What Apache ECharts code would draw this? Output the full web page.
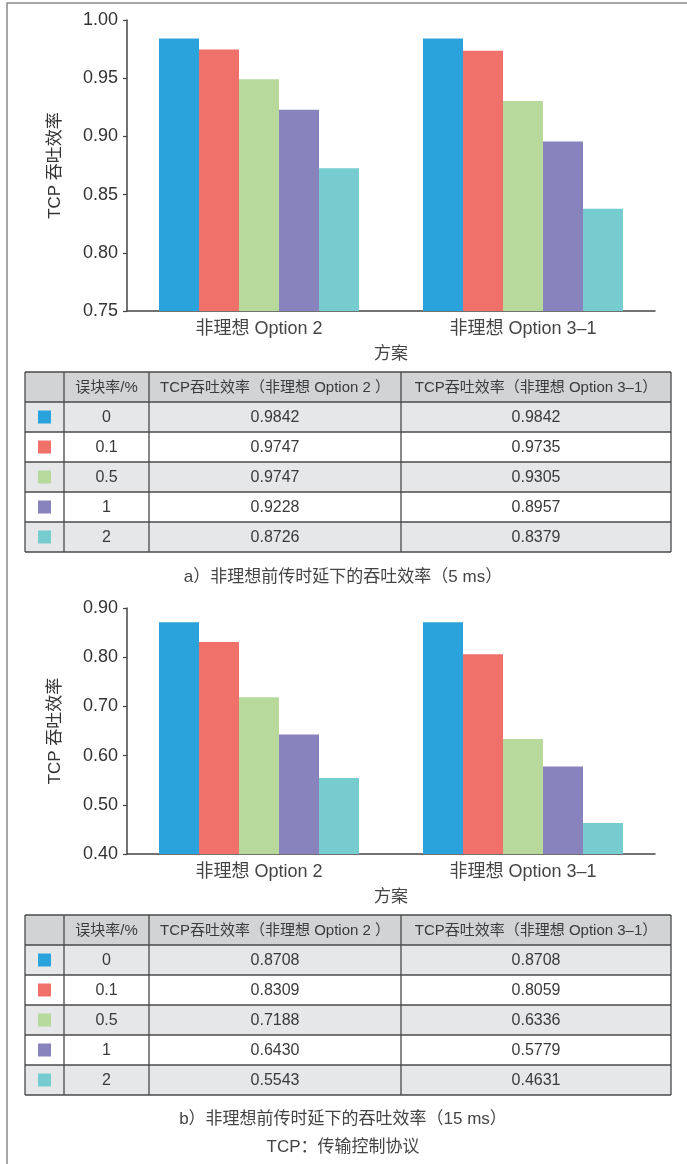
<!DOCTYPE html>
<html>
<head>
<meta charset="utf-8">
<script src="https://cdn.jsdelivr.net/npm/echarts@6/dist/echarts.min.js"></script>
<style>
html,body{margin:0;padding:0;background:#fff;}
#chart{width:687px;height:1164px;}
</style>
</head>
<body>
<div id="chart"></div>
<script>
// ---- data ----
const categories = ['非理想 Option 2', '非理想 Option 3–1'];
const blerLevels = ['0', '0.1', '0.5', '1', '2'];
const colors = ['#2aa2dc', '#f0706a', '#b7da9c', '#8882bd', '#77cccf'];
// chart a (5 ms) bar values
const a5msOpt2 = [0.9842, 0.9747, 0.9490, 0.9228, 0.8726];
const a5msOpt31 = [0.9842, 0.9735, 0.9305, 0.8957, 0.8379];
// chart a table texts (as printed)
const tableA_opt2 = ['0.9842', '0.9747', '0.9747', '0.9228', '0.8726'];
const tableA_opt31 = ['0.9842', '0.9735', '0.9305', '0.8957', '0.8379'];
// chart b (15 ms)
const b15msOpt2 = [0.8708, 0.8309, 0.7188, 0.6430, 0.5543];
const b15msOpt31 = [0.8708, 0.8059, 0.6336, 0.5779, 0.4631];
const tableB_opt2 = ['0.8708', '0.8309', '0.7188', '0.6430', '0.5543'];
const tableB_opt31 = ['0.8708', '0.8059', '0.6336', '0.5779', '0.4631'];
const yTicksA = {min: 0.75, max: 1.00, interval: 0.05};
const yTicksB = {min: 0.40, max: 0.90, interval: 0.10};
const headerTexts = ['', '误块率/%', 'TCP吞吐效率（非理想 Option 2 ）', 'TCP吞吐效率（非理想 Option 3–1）'];
const captionA = 'a）非理想前传时延下的吞吐效率（5 ms）';
const captionB = 'b）非理想前传时延下的吞吐效率（15 ms）';
const noteText = 'TCP：传输控制协议';
const yName = 'TCP 吞吐效率';
const xName = '方案';

// ---- styles ----
const FONT = "'Liberation Sans','Noto Sans CJK SC',sans-serif";
const TFONT = "'Liberation Sans Narrow','Liberation Sans','Noto Sans CJK SC',sans-serif";
const chart = echarts.init(document.getElementById('chart'), null, {renderer: 'canvas'});

function xAxisCfg(i) {
  return {
    type: 'category', gridIndex: i, data: categories,
    axisLine: {lineStyle: {color: '#444', width: 1.5}},
    axisTick: {show: false},
    axisLabel: {fontSize: 18, color: '#444', margin: 9, fontFamily: FONT},
    name: xName, nameLocation: 'middle', nameGap: 35,
    nameTextStyle: {fontSize: 17, color: '#444', fontFamily: FONT}
  };
}
function yAxisCfg(i, t) {
  return {
    type: 'value', gridIndex: i, min: t.min, max: t.max, interval: t.interval,
    axisLine: {show: true, lineStyle: {color: '#444', width: 1.5}},
    axisTick: {show: true, length: 4, lineStyle: {color: '#444', width: 1.2}},
    splitLine: {show: false},
    axisLabel: {fontSize: 18, color: '#333', margin: 9, fontFamily: FONT,
      formatter: v => v.toFixed(2)},
    name: yName, nameLocation: 'middle', nameRotate: 90, nameGap: 63,
    nameTextStyle: {fontSize: 17, color: '#333', fontFamily: FONT}
  };
}

const series = [];
blerLevels.forEach((lv, k) => {
  series.push({type: 'bar', name: lv, xAxisIndex: 0, yAxisIndex: 0,
    data: [a5msOpt2[k], a5msOpt31[k]], barWidth: 40, barGap: '0%',
    itemStyle: {color: colors[k]}});
});
blerLevels.forEach((lv, k) => {
  series.push({type: 'bar', name: lv, xAxisIndex: 1, yAxisIndex: 1,
    data: [b15msOpt2[k], b15msOpt31[k]], barWidth: 40, barGap: '0%',
    itemStyle: {color: colors[k]}});
});

// ---- tables ----
const colX = [25, 64, 149, 401, 671];
const rowH = 30;
function buildTable(top, opt2, opt31) {
  const els = [];
  const nRows = blerLevels.length + 1;
  for (let r = 0; r < nRows; r++) {
    let fill;
    if (r === 0) fill = '#d2d3d5';
    else fill = (r % 2 === 1) ? '#e6e7e8' : '#ffffff';
    els.push({type: 'rect', shape: {x: colX[0], y: top + r * rowH, width: colX[4] - colX[0], height: rowH},
      style: {fill: fill}, silent: true});
  }
  for (let r = 0; r < nRows; r++) {
    const cy = top + r * rowH + rowH / 2;
    let cells;
    if (r === 0) cells = headerTexts;
    else cells = [null, blerLevels[r - 1], opt2[r - 1], opt31[r - 1]];
    for (let c = 0; c < 4; c++) {
      const cx = (colX[c] + colX[c + 1]) / 2;
      if (c === 0 && r > 0) {
        els.push({type: 'rect', shape: {x: cx - 6.5, y: cy - 6.5, width: 13, height: 13},
          style: {fill: colors[r - 1]}, silent: true});
      } else if (cells[c]) {
        els.push({type: 'text', x: cx, y: cy + 1, style: {text: cells[c], fill: '#3a3a3a',
          font: (r === 0 ? '15px ' : '16px ') + TFONT, align: 'center', verticalAlign: 'middle'}, silent: true});
      }
    }
  }
  for (let r = 0; r <= nRows; r++) {
    const y = top + r * rowH;
    els.push({type: 'line', shape: {x1: colX[0], y1: y, x2: colX[4], y2: y},
      style: {stroke: '#4a4a4a', lineWidth: 1.3}, silent: true});
  }
  colX.forEach(x => {
    els.push({type: 'line', shape: {x1: x, y1: top, x2: x, y2: top + nRows * rowH},
      style: {stroke: '#4a4a4a', lineWidth: 1.3}, silent: true});
  });
  return els;
}

function caption(text, y) {
  return {type: 'text', x: 343, y: y, style: {text: text, fill: '#444',
    font: '17px ' + FONT, align: 'center', verticalAlign: 'middle'}, silent: true};
}

const graphics = [].concat(
  [{type: 'polyline', shape: {points: [[7, 1164], [7, 3], [687, 3]]},
    style: {stroke: '#8a8a8a', lineWidth: 1.5, fill: null}, silent: true}],
  buildTable(372, tableA_opt2, tableA_opt31),
  buildTable(915, tableB_opt2, tableB_opt31),
  [caption(captionA, 577), caption(captionB, 1119), caption(noteText, 1147)]
);

chart.setOption({
  animation: false,
  backgroundColor: '#fff',
  grid: [
    {left: 127, top: 20, width: 528, height: 291},
    {left: 127, top: 608, width: 528, height: 246}
  ],
  xAxis: [xAxisCfg(0), xAxisCfg(1)],
  yAxis: [yAxisCfg(0, yTicksA), yAxisCfg(1, yTicksB)],
  series: series,
  graphic: graphics
});
</script>
</body>
</html>
